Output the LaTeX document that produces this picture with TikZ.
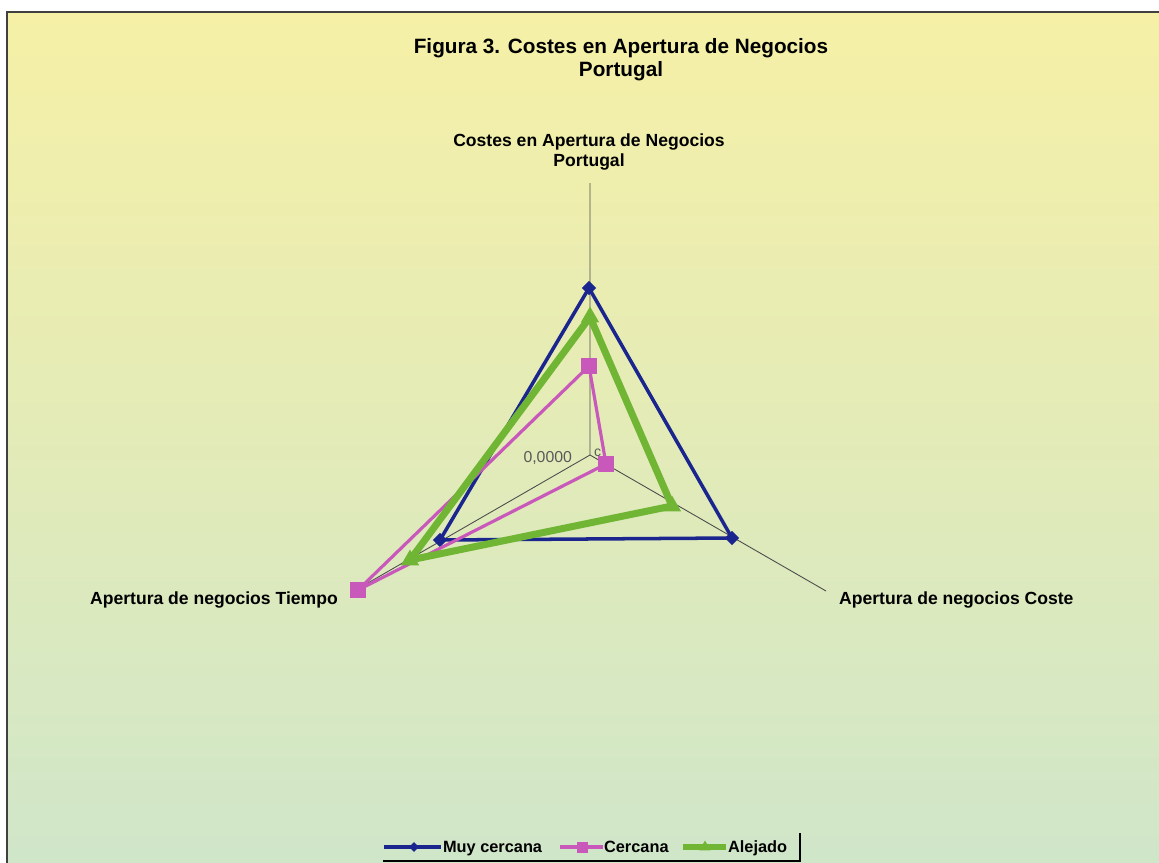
\documentclass[tikz,border=0pt]{standalone}
\usepackage{fontspec}
\setmainfont{Liberation Sans}
\usetikzlibrary{positioning,shapes.geometric}

\definecolor{muycol}{RGB}{26,38,142}
\definecolor{cercol}{RGB}{200,88,186}
\definecolor{alecol}{RGB}{112,182,52}
\definecolor{bgtop}{RGB}{246,240,166}
\definecolor{bgbot}{RGB}{207,230,202}

\tikzset{
  axisline/.style={draw=black!70, line width=0.5pt},
  muyline/.style={draw=muycol, line width=2pt, line join=round},
  cerline/.style={draw=cercol, line width=1.8pt, line join=round},
  aleline/.style={draw=alecol, line width=4pt, line join=round},
  muymark/.style={diamond, fill=muycol, inner sep=0pt, minimum size=0.29cm},
  cermark/.style={rectangle, fill=cercol, inner sep=0pt, minimum size=0.31cm},
  alemark/.style={regular polygon, regular polygon sides=3, fill=alecol, inner sep=0pt, minimum size=0.42cm},
  lbl/.style={font=\bfseries\fontsize{10}{11.3}\selectfont, align=center},
}

\begin{document}
\begin{tikzpicture}[x=0.02cm,y=-0.02cm]
  \useasboundingbox (0,0) rectangle (1159,862);
  \clip (0,0) rectangle (1159,862);
  \shade[top color=bgtop, bottom color=bgbot, draw=black!75, line width=0.8pt] (7,12) rectangle (1175,880);

  % titles
  \node[lbl, font=\bfseries\fontsize{11.8}{13}\selectfont] (title) at (621,60) {Figura 3. Costes en Apertura de Negocios\\Portugal};
  \node[lbl] (toplbl) at (589,152) {Costes en Apertura de Negocios\\Portugal};
  \node[lbl, anchor=east] (lftlbl) at (344,600) {Apertura de negocios Tiempo};
  \node[lbl, anchor=west] (rgtlbl) at (833,600) {Apertura de negocios Coste};

  % axes
  \coordinate (c) at (590,455);
  \coordinate (top) at (590,183);
  \coordinate (rgt) at (826,591);
  \coordinate (lft) at (354,591);
  \draw[axisline] (c) -- (top) (c) -- (rgt) (c) -- (lft);
  \node[anchor=east, text=black!65, font=\fontsize{9}{10}\selectfont, inner sep=1pt] (zero) at (574,458) {0,0000};
  \node[anchor=west, text=black!65, font=\fontsize{8}{9}\selectfont, inner sep=1pt] (zeroc) at (592,453) {c};

  % Muy cercana
  \coordinate (muyT) at (589,288);
  \coordinate (muyR) at (732,538);
  \coordinate (muyL) at (440,540);
  \draw[muyline] (muyT) -- (muyR) -- (muyL) -- cycle;
  \node[muymark] at (muyT) {};
  \node[muymark] at (muyR) {};
  \node[muymark] at (muyL) {};

  % Cercana
  \coordinate (cerT) at (589,366);
  \coordinate (cerR) at (606,464);
  \coordinate (cerL) at (358,590);
  \draw[cerline] (cerT) -- (cerR) -- (cerL) -- cycle;
  \node[cermark] at (cerT) {};
  \node[cermark] at (cerR) {};
  \node[cermark] at (cerL) {};

  % Alejado
  \coordinate (aleT) at (590,317);
  \coordinate (aleR) at (672,506);
  \coordinate (aleL) at (410,560);
  \draw[aleline] (aleT) -- (aleR) -- (aleL) -- cycle;
  \node[alemark] at (aleT) {};
  \node[alemark] at (aleR) {};
  \node[alemark] at (aleL) {};

  % legend
  \coordinate (muyA) at (384,847);
  \coordinate (muyB) at (441,847);
  \draw[muyline] (muyA) -- (muyB);
  \node[muymark, minimum size=0.2cm] at (414,847) {};
  \node[lbl, font=\bfseries\fontsize{9.3}{10}\selectfont, anchor=base west, inner sep=1pt] (muytxt) at (441,852) {Muy cercana};

  \coordinate (cerA) at (560,847);
  \coordinate (cerB) at (603,847);
  \draw[cerline] (cerA) -- (cerB);
  \node[cermark, minimum size=0.22cm] at (582,847) {};
  \node[lbl, font=\bfseries\fontsize{9.3}{10}\selectfont, anchor=base west, inner sep=1pt] (certxt) at (602,852) {Cercana};

  \coordinate (aleA) at (683,847);
  \coordinate (aleB) at (726,847);
  \draw[aleline, line width=3pt] (aleA) -- (aleB);
  \node[alemark, minimum size=0.26cm] at (705,847) {};
  \node[lbl, font=\bfseries\fontsize{9.3}{10}\selectfont, anchor=base west, inner sep=1pt] (aletxt) at (726,852) {Alejado};

  \coordinate (legL) at (383,861);
  \coordinate (legC) at (800,861);
  \coordinate (legT) at (800,833);
  \draw[line width=1.2pt] (legL) -- (legC) -- (legT);
\end{tikzpicture}
\end{document}
